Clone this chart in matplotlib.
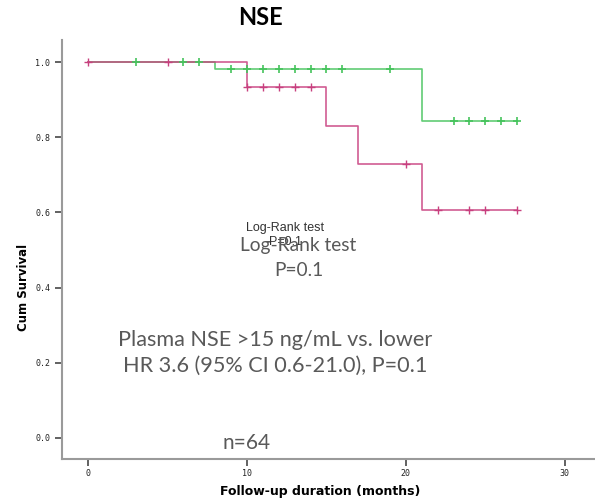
import numpy as np
import matplotlib
matplotlib.use('Agg')
import matplotlib.pyplot as plt

# step curves (time of change, survival after change)
high_times = [0, 10, 15, 17, 21, 27]
high_surv = [1.0, 0.934, 0.831, 0.728, 0.606, 0.606]
low_times = [0, 8, 21, 27]
low_surv = [1.0, 0.983, 0.843, 0.843]

# censored cases
high_cens_t = [0, 5, 10, 11, 12, 13, 14, 20, 22, 24, 25, 27]
high_cens_s = [1.0, 1.0, 0.934, 0.934, 0.934, 0.934, 0.934, 0.728, 0.606, 0.606, 0.606, 0.606]
low_cens_t = [3, 6, 7, 9, 10, 11, 12, 13, 14, 15, 16, 19, 23, 24, 25, 26, 27]
low_cens_s = [1.0, 1.0, 1.0, 0.983, 0.983, 0.983, 0.983, 0.983, 0.983, 0.983, 0.983, 0.983,
              0.843, 0.843, 0.843, 0.843, 0.843]

x_ticks = [0, 10, 20, 30]
y_ticks = [0.0, 0.2, 0.4, 0.6, 0.8, 1.0]

green = '#45c35c'
pink = '#c8407f'
gray = '#9a9a9a'
txt = '#595959'

fig = plt.figure(figsize=(5.95, 5.04), dpi=100)
ax = fig.add_axes([0.1042, 0.0893, 0.8958, 0.8313])

ax.step(low_times, low_surv, where='post', color=green, lw=1.2, alpha=0.85)
ax.step(high_times, high_surv, where='post', color=pink, lw=1.2, alpha=0.85)
ax.plot(low_cens_t, low_cens_s, '+', color=green, ms=6, mew=1.2, ls='none')
ax.plot(high_cens_t, high_cens_s, '+', color=pink, ms=6, mew=1.0, ls='none')

ax.set_xlim(-1.64, 31.9)
ax.set_ylim(-0.056, 1.059)
ax.set_xticks(x_ticks)
ax.set_yticks(y_ticks)
ax.set_yticklabels(['%.1f' % v for v in y_ticks])
for s in ['top', 'right']:
    ax.spines[s].set_visible(False)
for s in ['left', 'bottom']:
    ax.spines[s].set_color(gray)
    ax.spines[s].set_linewidth(1.5)
ax.tick_params(direction='out', length=5, width=1.3, color='#555555',
               labelsize=6, labelcolor='#222222')
ax.tick_params(axis='x', pad=2)
for lab in ax.get_xticklabels() + ax.get_yticklabels():
    lab.set_family('DejaVu Sans Mono')

fig.text(0.437, 0.966, 'NSE', ha='center', va='center', fontsize=17,
         fontweight='bold', family='Lato')
fig.text(0.039, 0.43, 'Cum Survival', ha='center', va='center', rotation=90,
         fontsize=8.5, fontweight='bold')
fig.text(0.538, 0.024, 'Follow-up duration (months)', ha='center', va='center',
         fontsize=9, fontweight='bold')

# overlapping text from the original export
ax.text(285 / 595, 1 - 228 / 504, 'Log-Rank test', transform=fig.transFigure,
        ha='center', va='center', fontsize=9, color='#333333', family='Liberation Sans')
ax.text(285 / 595, 1 - 242 / 504, 'P=0.1', transform=fig.transFigure,
        ha='center', va='center', fontsize=9, color='#333333', family='Liberation Sans')
ax.text(298 / 595, 1 - 246 / 504, 'Log-Rank test', transform=fig.transFigure,
        ha='center', va='center', fontsize=13.8, color=txt, family='Lato')
ax.text(299 / 595, 1 - 271 / 504, 'P=0.1', transform=fig.transFigure,
        ha='center', va='center', fontsize=13.8, color=txt, family='Lato')
ax.text(275 / 595, 1 - 340 / 504, 'Plasma NSE >15 ng/mL vs. lower', transform=fig.transFigure,
        ha='center', va='center', fontsize=15.6, color=txt, family='Lato')
ax.text(275 / 595, 1 - 366 / 504, 'HR 3.6 (95% CI 0.6-21.0), P=0.1', transform=fig.transFigure,
        ha='center', va='center', fontsize=15.6, color=txt, family='Lato')
ax.text(247 / 595, 1 - 443 / 504, 'n=64', transform=fig.transFigure,
        ha='center', va='center', fontsize=15, color=txt, family='Lato')

fig.savefig('out.png', dpi=100)
